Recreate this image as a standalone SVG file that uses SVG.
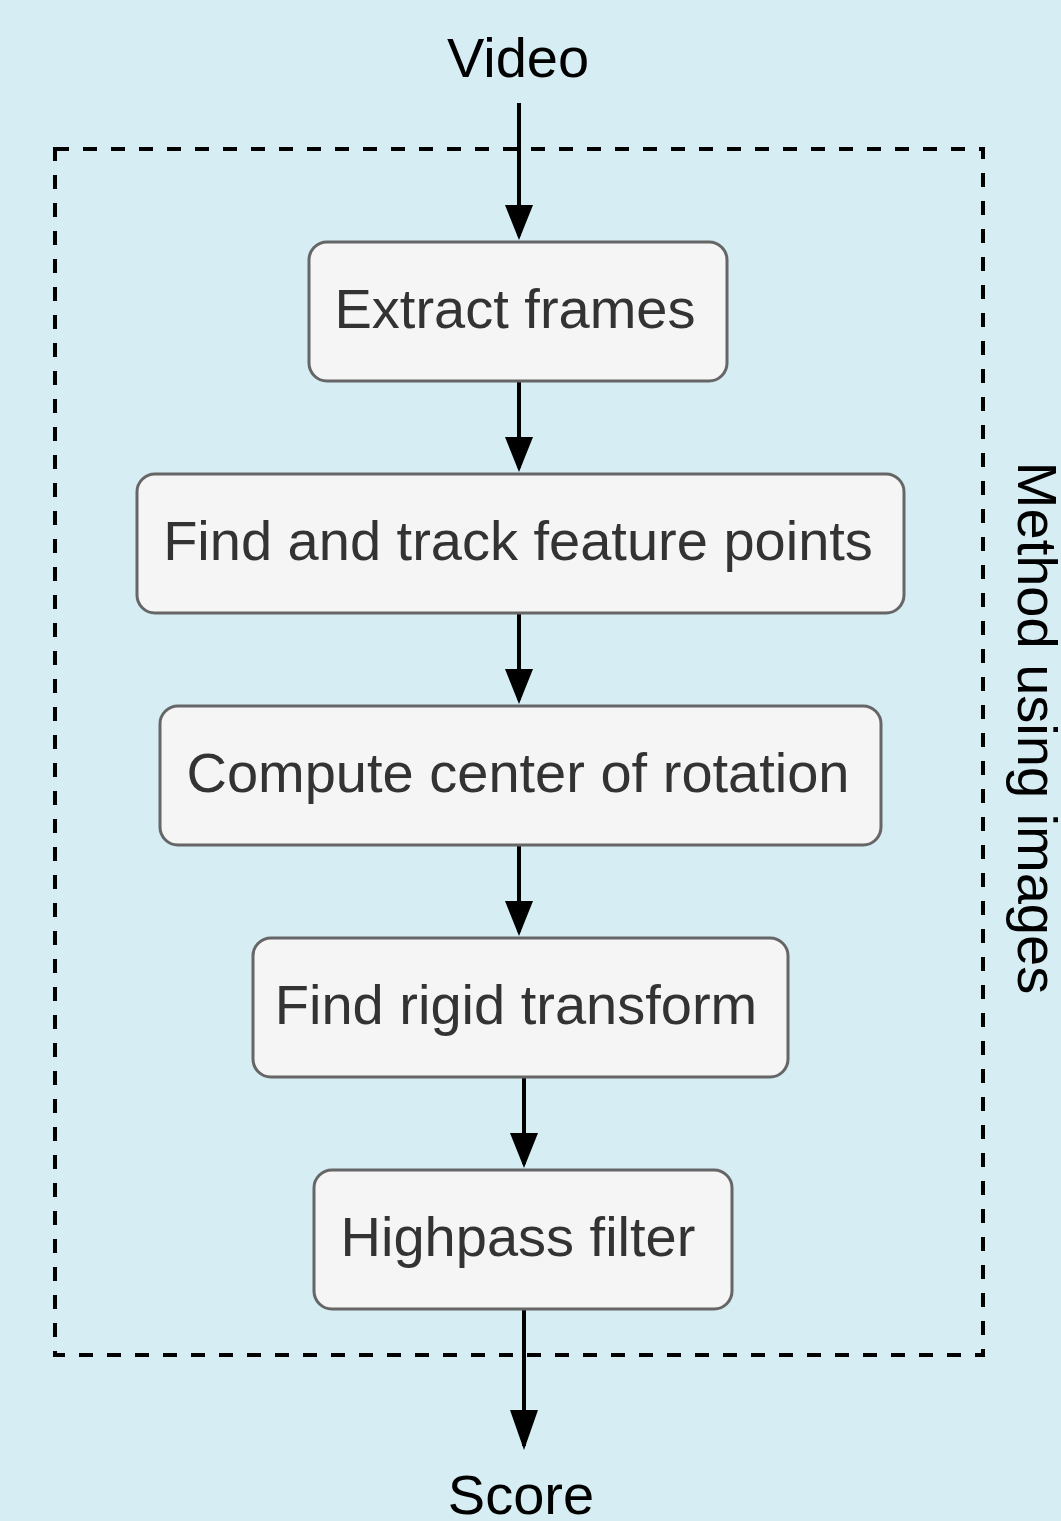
<svg xmlns="http://www.w3.org/2000/svg" width="1061" height="1521" viewBox="0 0 1061 1521">
  <style>
    .node rect { fill: #f5f5f5; stroke: #666666; stroke-width: 3; }
    .node text { font-family: "Liberation Sans", Arial, sans-serif; font-size: 56px; fill: #333333; text-anchor: middle; }
    .label { font-family: "Liberation Sans", Arial, sans-serif; font-size: 56px; fill: #000000; text-anchor: middle; }
    .frame { fill: none; stroke: #000000; stroke-width: 4; stroke-dasharray: 14 14; }
    .shaft { stroke: #000000; stroke-width: 4; }
    .head { fill: #000000; }
  </style>

  <rect width="1061" height="1521" fill="#d5edf3"/>

  <!-- dashed boundary of the image-based method -->
  <rect class="frame" x="55" y="149" width="928" height="1206"/>
  <text class="label" transform="translate(1018,728) rotate(90)">Method using images</text>

  <!-- connectors -->
  <g id="edges">
    <line class="shaft" x1="519" y1="103" x2="519" y2="236"/>
    <path class="head" d="M505,205 L533,205 L519,240 Z"/>
    <line class="shaft" x1="519" y1="382" x2="519" y2="468"/>
    <path class="head" d="M505,437 L533,437 L519,472 Z"/>
    <line class="shaft" x1="519" y1="614" x2="519" y2="700"/>
    <path class="head" d="M505,669 L533,669 L519,704 Z"/>
    <line class="shaft" x1="519" y1="846" x2="519" y2="932"/>
    <path class="head" d="M505,901 L533,901 L519,936 Z"/>
    <line class="shaft" x1="524" y1="1078" x2="524" y2="1164"/>
    <path class="head" d="M510,1133 L538,1133 L524,1168 Z"/>
    <line class="shaft" x1="524" y1="1310" x2="524" y2="1446"/>
    <path class="head" d="M510,1410 L538,1410 L524,1450 Z"/>
  </g>

  <g id="video">
    <text class="label" x="518" y="77">Video</text>
  </g>

  <g id="extract-frames" class="node">
    <rect x="309" y="242" width="418" height="139" rx="18"/>
    <text x="515" y="328">Extract frames</text>
  </g>

  <g id="find-track" class="node">
    <rect x="137" y="474" width="767" height="139" rx="18"/>
    <text x="518" y="560">Find and track feature points</text>
  </g>

  <g id="center-rotation" class="node">
    <rect x="160" y="706" width="721" height="139" rx="18"/>
    <text x="518" y="792">Compute center of rotation</text>
  </g>

  <g id="rigid-transform" class="node">
    <rect x="253" y="938" width="535" height="139" rx="18"/>
    <text x="516" y="1024">Find rigid transform</text>
  </g>

  <g id="highpass" class="node">
    <rect x="314" y="1170" width="418" height="139" rx="18"/>
    <text x="518" y="1256">Highpass filter</text>
  </g>

  <g id="score">
    <text class="label" x="521" y="1514">Score</text>
  </g>
</svg>
